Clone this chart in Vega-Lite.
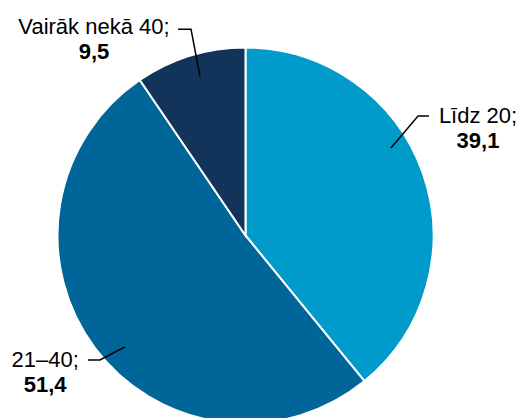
{
  "$schema": "https://vega.github.io/schema/vega-lite/v6.json",
  "width": 519,
  "height": 418,
  "autosize": {"type": "none"},
  "padding": 0,
  "background": "white",
  "config": {"view": {"stroke": null}, "text": {"font": "Liberation Sans"}},
  "datasets": {
    "slices": [
      {"category": "Līdz 20", "value": 39.1, "order": 1, "label": "Līdz 20;", "valueText": "39,1", "lx": 1.237, "ly": 0.598},
      {"category": "21–40", "value": 51.4, "order": 2, "label": "21–40;", "valueText": "51,4", "lx": -1.066, "ly": -0.699},
      {"category": "Vairāk nekā 40", "value": 9.5, "order": 3, "label": "Vairāk nekā 40;", "valueText": "9,5", "lx": -0.806, "ly": 1.072}
    ],
    "leaders": [
      {"category": "Līdz 20", "pt": 1, "x": 0.976, "y": 0.636},
      {"category": "Līdz 20", "pt": 2, "x": 0.918, "y": 0.636},
      {"category": "Līdz 20", "pt": 3, "x": 0.774, "y": 0.465},
      {"category": "21–40", "pt": 1, "x": -0.838, "y": -0.662},
      {"category": "21–40", "pt": 2, "x": -0.774, "y": -0.662},
      {"category": "21–40", "pt": 3, "x": -0.641, "y": -0.593},
      {"category": "Vairāk nekā 40", "pt": 1, "x": -0.359, "y": 1.098},
      {"category": "Vairāk nekā 40", "pt": 2, "x": -0.29, "y": 1.098},
      {"category": "Vairāk nekā 40", "pt": 3, "x": -0.242, "y": 0.848}
    ]
  },
  "layer": [
    {
      "data": {"name": "slices"},
      "mark": {"type": "arc", "radius": 188, "stroke": "white", "strokeWidth": 2},
      "encoding": {
        "theta": {"field": "value", "type": "quantitative", "stack": true},
        "order": {"field": "order", "type": "ordinal"},
        "color": {
          "field": "category",
          "type": "nominal",
          "scale": {"domain": ["Līdz 20", "21–40", "Vairāk nekā 40"], "range": ["#009ACB", "#006699", "#12345A"]},
          "legend": null
        },
        "x": {"datum": 0, "type": "quantitative", "scale": {"domain": [-1.306, 1.455], "nice": false, "zero": false}, "axis": null},
        "y": {"datum": 0, "type": "quantitative", "scale": {"domain": [-0.971, 1.253], "nice": false, "zero": false}, "axis": null}
      }
    },
    {
      "data": {"name": "leaders"},
      "mark": {"type": "line", "color": "black", "strokeWidth": 1.5},
      "encoding": {
        "x": {"field": "x", "type": "quantitative"},
        "y": {"field": "y", "type": "quantitative"},
        "detail": {"field": "category"},
        "order": {"field": "pt", "type": "quantitative"}
      }
    },
    {
      "data": {"name": "slices"},
      "mark": {"type": "text", "fontSize": 22, "align": "center", "baseline": "alphabetic", "color": "black"},
      "encoding": {
        "x": {"field": "lx", "type": "quantitative"},
        "y": {"field": "ly", "type": "quantitative"},
        "text": {"field": "label"}
      }
    },
    {
      "data": {"name": "slices"},
      "mark": {"type": "text", "fontSize": 22, "fontWeight": "bold", "align": "center", "baseline": "alphabetic", "dy": 25, "color": "black"},
      "encoding": {
        "x": {"field": "lx", "type": "quantitative"},
        "y": {"field": "ly", "type": "quantitative"},
        "text": {"field": "valueText"}
      }
    }
  ]
}
